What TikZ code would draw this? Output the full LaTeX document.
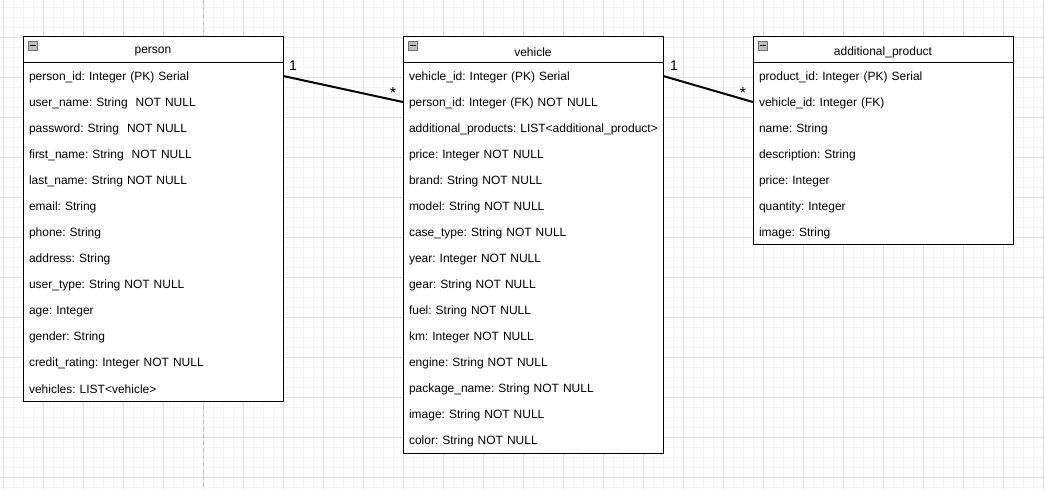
\documentclass[tikz,border=0pt]{standalone}
\usepackage{fontspec}
\setmainfont{Liberation Sans}
\begin{document}
\begin{tikzpicture}[x=1pt,y=-1pt,
  font=\fontsize{12}{14}\selectfont\frenchspacing,
  minorgrid/.style={draw=black!4, line width=0.8pt},
  majorgrid/.style={draw=black!12, line width=0.8pt},
  pageline/.style={draw=black!25, dashed, dash pattern=on 4pt off 3pt, line width=0.8pt},
  classbox/.style={draw=black, line width=1pt, minimum width=260pt, inner sep=0pt, fill=white},
  headtext/.style={inner sep=0pt, anchor=center, yshift=-2pt},
  rowtext/.style={minimum width=260pt, minimum height=26pt, text width=248pt, inner xsep=6pt, inner ysep=0pt, anchor=center, align=left, yshift=-1.5pt},
  minusicon/.style={draw=black!55, fill=black!25, minimum size=9pt, inner sep=0pt, line width=0.8pt},
  assoc/.style={draw=black, line width=2pt},
  mult/.style={inner sep=0pt, anchor=center}
]
\useasboundingbox (0,0) rectangle (1045,489);
\fill[white] (0,0) rectangle (1045,489);
% grid
\foreach \i in {0,...,104} {\draw[minorgrid] ({3.3+10*\i},0) -- ({3.3+10*\i},489);}
\foreach \i in {0,...,49} {\draw[minorgrid] (0,{7.3+10*\i}) -- (1045,{7.3+10*\i});}
\foreach \i in {0,...,26} {\draw[majorgrid] ({3.3+40*\i},0) -- ({3.3+40*\i},489);}
\foreach \i in {-1,...,12} {\draw[majorgrid] (0,{37.3+40*\i}) -- (1045,{37.3+40*\i});}
\draw[pageline] (203.3,0) -- (203.3,489);

% person
\node[classbox, minimum height=364pt] (person) at (153,219) {};
\draw[line width=1pt] (23,63) -- (283,63);
\node[minusicon] (pm) at (32.5,45.5) {};
\draw[line width=1pt] (29.5,45.5) -- (35.5,45.5);
\node[headtext] (ph) at (153,50) {person};
\node[rowtext] (p1) at (153,76) {person\_id: Integer (PK) Serial};
\node[rowtext] (p2) at (153,102) {user\_name: String\ \ NOT NULL};
\node[rowtext] (p3) at (153,128) {password: String\ \ NOT NULL};
\node[rowtext] (p4) at (153,154) {first\_name: String\ \ NOT NULL};
\node[rowtext] (p5) at (153,180) {last\_name: String NOT NULL};
\node[rowtext] (p6) at (153,206) {email: String};
\node[rowtext] (p7) at (153,232) {phone: String};
\node[rowtext] (p8) at (153,258) {address: String};
\node[rowtext] (p9) at (153,284) {user\_type: String NOT NULL};
\node[rowtext] (p10) at (153,310) {age: Integer};
\node[rowtext] (p11) at (153,336) {gender: String};
\node[rowtext] (p12) at (153,362) {credit\_rating: Integer NOT NULL};
\node[rowtext] (p13) at (153,388) {vehicles: LIST<vehicle>};

% vehicle
\node[classbox, minimum height=416pt] (vehicle) at (533,245) {};
\draw[line width=1pt] (403,63) -- (663,63);
\node[minusicon] (vm) at (412.5,45.5) {};
\draw[line width=1pt] (409.5,45.5) -- (415.5,45.5);
\node[headtext] (vh) at (533,50) {vehicle};
\node[rowtext] (v1) at (533,76) {vehicle\_id: Integer (PK) Serial};
\node[rowtext] (v2) at (533,102) {person\_id: Integer (FK) NOT NULL};
\node[rowtext] (v3) at (533,128) {\mbox{additional\_products: LIST<additional\_product>}};
\node[rowtext] (v4) at (533,154) {price: Integer NOT NULL};
\node[rowtext] (v5) at (533,180) {brand: String NOT NULL};
\node[rowtext] (v6) at (533,206) {model: String NOT NULL};
\node[rowtext] (v7) at (533,232) {case\_type: String NOT NULL};
\node[rowtext] (v8) at (533,258) {year: Integer NOT NULL};
\node[rowtext] (v9) at (533,284) {gear: String NOT NULL};
\node[rowtext] (v10) at (533,310) {fuel: String NOT NULL};
\node[rowtext] (v11) at (533,336) {km: Integer NOT NULL};
\node[rowtext] (v12) at (533,362) {engine: String NOT NULL};
\node[rowtext] (v13) at (533,388) {package\_name: String NOT NULL};
\node[rowtext] (v14) at (533,414) {image: String NOT NULL};
\node[rowtext] (v15) at (533,440) {color: String NOT NULL};

% additional_product
\node[classbox, minimum height=208pt] (addprod) at (883,141) {};
\draw[line width=1pt] (753,63) -- (1013,63);
\node[minusicon] (am) at (762.5,45.5) {};
\draw[line width=1pt] (759.5,45.5) -- (765.5,45.5);
\node[headtext] (ah) at (883,50) {additional\_product};
\node[rowtext] (a1) at (883,76) {product\_id: Integer (PK) Serial};
\node[rowtext] (a2) at (883,102) {vehicle\_id: Integer (FK)};
\node[rowtext] (a3) at (883,128) {name: String};
\node[rowtext] (a4) at (883,154) {description: String};
\node[rowtext] (a5) at (883,180) {price: Integer};
\node[rowtext] (a6) at (883,206) {quantity: Integer};
\node[rowtext] (a7) at (883,232) {image: String};

% associations
\draw[assoc] ([yshift=1.5pt]p1.east) -- ([yshift=1.5pt]v2.west);
\draw[assoc] ([yshift=1.5pt]v1.east) -- ([yshift=1.5pt]a2.west);
\node[mult, font=\fontsize{14}{16}\selectfont] (m1) at (293,66) {1};
\node[mult, font=\fontsize{16}{16}\selectfont] (m2) at (393,93) {*};
\node[mult, font=\fontsize{14}{16}\selectfont] (m3) at (674,66) {1};
\node[mult, font=\fontsize{16}{16}\selectfont] (m4) at (743,93) {*};
\end{tikzpicture}
\end{document}
